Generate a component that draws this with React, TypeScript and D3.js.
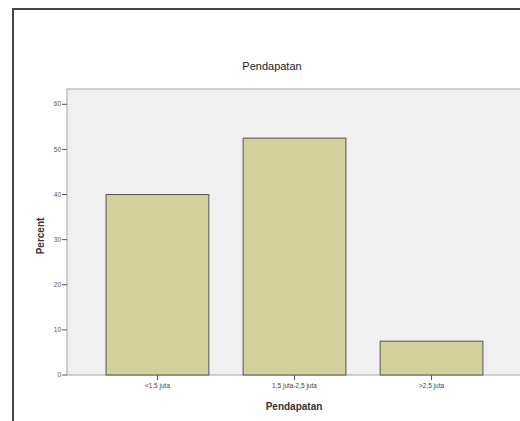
import React from "react"
import { scaleBand, scaleLinear } from "d3"

const categories = ["<1,5 juta", "1,5 juta-2,5 juta", ">2,5 juta"]
const percents = [40.0, 52.5, 7.5]
const yTicks = [0, 10, 20, 30, 40, 50, 60]
const chartTitle = "Pendapatan"
const xTitle = "Pendapatan"
const yTitle = "Percent"

export default function App() {
    const width = 520
    const height = 421
    const plot = { left: 67, top: 89, right: 522, bottom: 375 }

    const x = scaleBand<string>()
        .domain(categories)
        .range([plot.left, plot.right])
        .paddingInner(0.25)
        .paddingOuter(0.285)
    const y = scaleLinear().domain([0, 60]).range([plot.bottom, 104.3])

    const font = "Arial, 'Liberation Sans', sans-serif"

    return (
        <svg
            width={width}
            height={height}
            style={{ position: "absolute", left: 0, top: 0, background: "#fff" }}
        >
            {/* outer frame */}
            <rect x={13} y={9} width={width} height={height} fill="#fff" stroke="#444" strokeWidth={2} />

            <text x={272} y={70} textAnchor="middle" fontFamily={font} fontSize={11} fill="#222">
                {chartTitle}
            </text>

            {/* plot area */}
            <rect
                x={plot.left}
                y={plot.top}
                width={plot.right - plot.left + 10}
                height={plot.bottom - plot.top}
                fill="#f0f0f0"
                stroke="#a8a8a8"
                strokeWidth={1}
            />

            {percents.map((v, i) => (
                <rect
                    key={i}
                    x={x(categories[i])}
                    y={y(v)}
                    width={x.bandwidth()}
                    height={y(0) - y(v)}
                    fill="#d4d09c"
                    stroke="#555"
                    strokeWidth={1}
                />
            ))}

            {/* y axis */}
            {yTicks.map((t) => (
                <g key={t} transform={"translate(0," + y(t) + ")"}>
                    <line x1={plot.left - 5} x2={plot.left} stroke="#555" />
                    <text x={plot.left - 6} dy="0.33em" textAnchor="end" fontFamily={font} fontSize={6.5} fill="#555">
                        {t}
                    </text>
                </g>
            ))}

            {/* x axis */}
            {categories.map((c) => {
                const cx = (x(c) as number) + x.bandwidth() / 2
                return (
                    <g key={c} transform={"translate(" + cx + "," + plot.bottom + ")"}>
                        <line y1={0} y2={5} stroke="#555" />
                        <text y={13} textAnchor="middle" fontFamily={font} fontSize={6.5} fill="#444">
                            {c}
                        </text>
                    </g>
                )
            })}

            <text x={294} y={410} textAnchor="middle" fontFamily={font} fontSize={10} fontWeight="bold" fill="#333">
                {xTitle}
            </text>
            <text
                transform="translate(44,236) rotate(-90)"
                textAnchor="middle"
                fontFamily={font}
                fontSize={10}
                fontWeight="bold"
                fill="#333"
            >
                {yTitle}
            </text>
        </svg>
    )
}
